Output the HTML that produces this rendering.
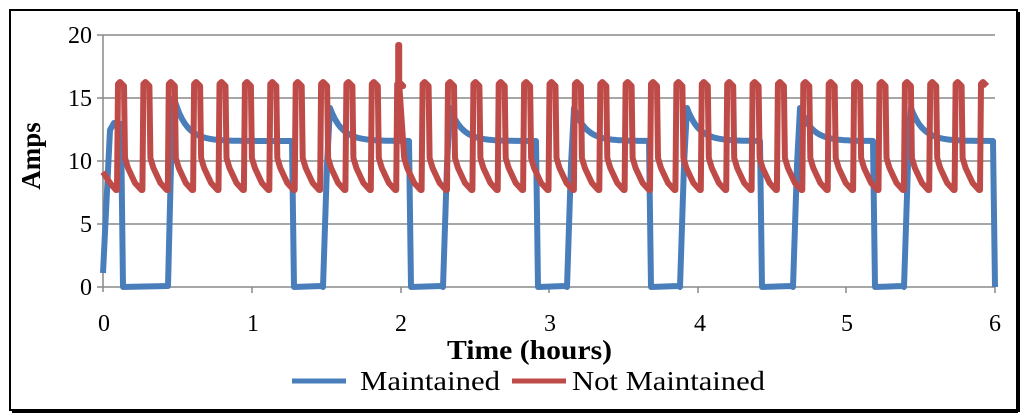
<!DOCTYPE html>
<html><head><meta charset="utf-8"><style>
html,body{margin:0;padding:0;background:#fff;}
svg{display:block;}
text{font-family:"Liberation Serif",serif;fill:#000;}
</style></head><body>
<svg id="s" width="1024" height="418" viewBox="0 0 1024 418" xmlns="http://www.w3.org/2000/svg">
<rect x="0" y="0" width="1024" height="418" fill="#fff"/>
<rect x="10" y="10" width="1007" height="400" fill="none" stroke="#000" stroke-width="2"/>
<line x1="12" y1="411.5" x2="1018" y2="411.5" stroke="#000" stroke-width="3"/>
<line x1="1018.5" y1="12" x2="1018.5" y2="412" stroke="#000" stroke-width="3"/>
<g stroke="#888" stroke-width="1.5">
<line x1="103" y1="35" x2="995" y2="35"/>
<line x1="103" y1="98" x2="995" y2="98"/>
<line x1="103" y1="161" x2="995" y2="161"/>
<line x1="103" y1="224" x2="995" y2="224"/>
<line x1="103" y1="287" x2="995" y2="287"/>
<line x1="103" y1="35" x2="103" y2="292"/>
<line x1="97" y1="35" x2="103" y2="35"/><line x1="97" y1="98" x2="103" y2="98"/>
<line x1="97" y1="161" x2="103" y2="161"/><line x1="97" y1="224" x2="103" y2="224"/>
<line x1="97" y1="287" x2="103" y2="287"/>
<line x1="252" y1="287" x2="252" y2="293"/><line x1="401" y1="287" x2="401" y2="293"/>
<line x1="549" y1="287" x2="549" y2="293"/><line x1="698" y1="287" x2="698" y2="293"/>
<line x1="846" y1="287" x2="846" y2="293"/><line x1="995" y1="287" x2="995" y2="293"/>
</g>
<g font-size="24" text-anchor="end">
<text x="92" y="43">20</text><text x="92" y="106">15</text><text x="92" y="169">10</text>
<text x="92" y="232">5</text><text x="92" y="295">0</text>
</g>
<g font-size="24" text-anchor="middle">
<text x="104" y="331">0</text><text x="253" y="331">1</text><text x="401" y="331">2</text>
<text x="550" y="331">3</text><text x="700" y="331">4</text><text x="847" y="331">5</text><text x="995" y="331">6</text>
</g>
<text x="447" y="359" font-size="27" font-weight="bold" textLength="165" lengthAdjust="spacingAndGlyphs">Time (hours)</text>
<text transform="translate(40,156) rotate(-90)" font-size="27" font-weight="bold" text-anchor="middle">Amps</text>
<line x1="292" y1="381" x2="346" y2="381" stroke="#4a7ebb" stroke-width="5"/>
<text x="360" y="390" font-size="27" textLength="140" lengthAdjust="spacingAndGlyphs">Maintained</text>
<line x1="512" y1="381" x2="566" y2="381" stroke="#be4b48" stroke-width="5"/>
<text x="572" y="390" font-size="27" textLength="193" lengthAdjust="spacingAndGlyphs">Not Maintained</text>
<path id="blue" fill="none" stroke="#4a7ebb" stroke-width="6" stroke-linejoin="round"/>
<path id="red" fill="none" stroke="#be4b48" stroke-width="6" stroke-linejoin="round"/>
</svg>
<script>
(function(){
var b=[[103,273],[110,130],[114,123],[121,124],[123,287],[168,286]];
var on=[[171,292],[327,409],[447,536],[571,649],[684,760],[797,873],[908,993]];
for(var i=0;i<on.length;i++){
 var xr=on[i][0],xd=on[i][1];
 if(i>0)b.push([xr-4,287]);
 b.push([xr,165]);b.push([xr+3,i==0?98:108]);
 var top=i==0?98:108;
 for(var x=xr+5;x<=xd;x+=3){b.push([x,141-(141-top)*Math.exp(-(x-xr-3)/12)]);}
 b.push([xd,141]);b.push([xd+2,287]);
 if(i<on.length-1)b.push([on[i+1][0]-6,286]);
}
var d="M"+b.map(function(p){return p[0].toFixed(1)+","+p[1].toFixed(1)}).join(" L");
document.getElementById("blue").setAttribute("d",d);
var r=[[103,172],[110,183],[116,190]];
var per=(980-117)/34;
for(var k=0;k<=34;k++){
 var x0=117+k*per;
 r.push([x0,190]);r.push([x0+1,84]);r.push([x0+3,82]);r.push([x0+7,86]);
 if(Math.abs(x0-394)<8){r.push([x0+2,83]);r.push([x0+2,45]);r.push([x0+3,45]);r.push([x0+3,84]);}
 if(k==34)break;
 r.push([x0+8,158]);r.push([x0+11,168]);r.push([x0+18,183]);r.push([x0+per-1,190]);
}
d="M"+r.map(function(p){return p[0].toFixed(1)+","+p[1].toFixed(1)}).join(" L");
document.getElementById("red").setAttribute("d",d);
})();
</script>
</body></html>
